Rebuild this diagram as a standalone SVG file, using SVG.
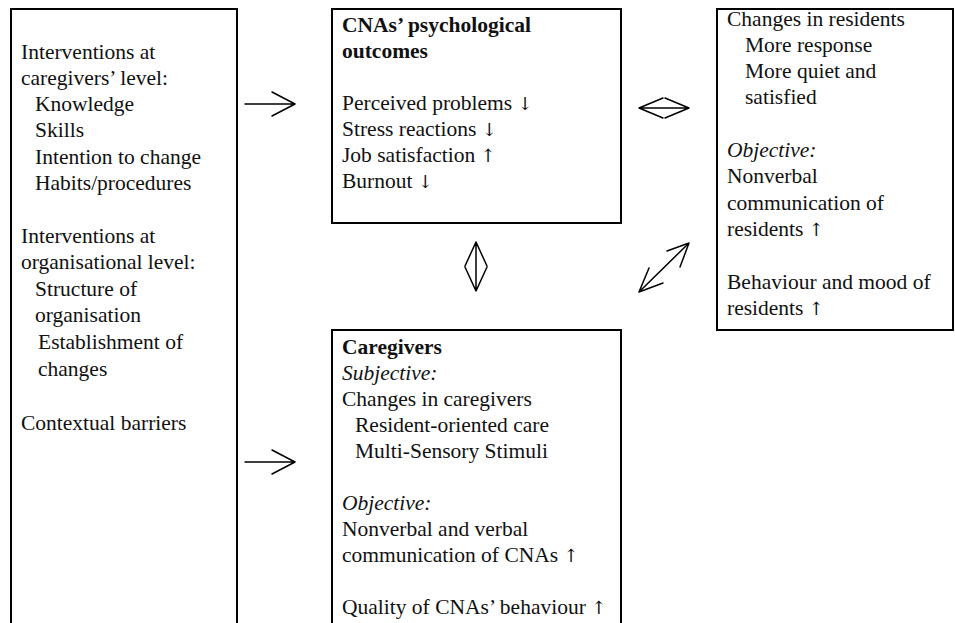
<svg xmlns="http://www.w3.org/2000/svg" width="955" height="623" viewBox="0 0 955 623">
  <defs>
    <style>
      .box { fill: none; stroke: #000; stroke-width: 2; }
      .t { font-family: "Liberation Serif", "Times New Roman", serif; font-size: 21.5px; fill: #111; }
      .b { font-weight: bold; }
      .i { font-style: italic; }
      .sym { font-family: "DejaVu Serif", "DejaVu Sans", serif; font-size: 18px; font-style: normal; font-weight: normal; fill: #111; }
      .arr { fill: none; stroke: #000; stroke-width: 1.5; stroke-linecap: round; stroke-linejoin: round; }
    </style>
  </defs>
  <rect width="955" height="623" fill="#fff"/>

  <!-- Interventions (left column, open at the bottom) -->
  <g id="interventions">
    <rect class="box" x="11" y="9" width="226" height="640"/>
    <text class="t" x="21" y="59">Interventions at</text>
    <text class="t" x="21" y="85">caregivers’ level:</text>
    <text class="t" x="35" y="111">Knowledge</text>
    <text class="t" x="35" y="137">Skills</text>
    <text class="t" x="35" y="164">Intention to change</text>
    <text class="t" x="35" y="190">Habits/procedures</text>
    <text class="t" x="21" y="243">Interventions at</text>
    <text class="t" x="21" y="269">organisational level:</text>
    <text class="t" x="35" y="296">Structure of</text>
    <text class="t" x="35" y="322">organisation</text>
    <text class="t" x="38" y="349">Establishment of</text>
    <text class="t" x="38" y="376">changes</text>
    <text class="t" x="21" y="430">Contextual barriers</text>
  </g>

  <!-- CNAs' psychological outcomes -->
  <g id="cna-outcomes">
    <rect class="box" x="332" y="9" width="289" height="214"/>
    <text class="t b" x="342" y="32">CNAs’ psychological</text>
    <text class="t b" x="342" y="58">outcomes</text>
    <text class="t" x="342" y="110">Perceived problems <tspan class="sym">↓</tspan></text>
    <text class="t" x="342" y="136">Stress reactions <tspan class="sym">↓</tspan></text>
    <text class="t" x="342" y="162">Job satisfaction <tspan class="sym">↑</tspan></text>
    <text class="t" x="342" y="188">Burnout <tspan class="sym">↓</tspan></text>
  </g>

  <!-- Residents -->
  <g id="residents">
    <rect class="box" x="717" y="9" width="236" height="321"/>
    <text class="t" x="727" y="26">Changes in residents</text>
    <text class="t" x="745" y="52">More response</text>
    <text class="t" x="745" y="78">More quiet and</text>
    <text class="t" x="745" y="104">satisfied</text>
    <text class="t i" x="727" y="157">Objective:</text>
    <text class="t" x="727" y="183">Nonverbal</text>
    <text class="t" x="727" y="210">communication of</text>
    <text class="t" x="727" y="236">residents <tspan class="sym">↑</tspan></text>
    <text class="t" x="727" y="289">Behaviour and mood of</text>
    <text class="t" x="727" y="315">residents <tspan class="sym">↑</tspan></text>
  </g>

  <!-- Caregivers (open at the bottom) -->
  <g id="caregivers">
    <rect class="box" x="332" y="330" width="289" height="320"/>
    <text class="t b" x="342" y="354">Caregivers</text>
    <text class="t i" x="342" y="380">Subjective:</text>
    <text class="t" x="342" y="406">Changes in caregivers</text>
    <text class="t" x="355" y="432">Resident-oriented care</text>
    <text class="t" x="355" y="458">Multi-Sensory Stimuli</text>
    <text class="t i" x="342" y="510">Objective:</text>
    <text class="t" x="342" y="536">Nonverbal and verbal</text>
    <text class="t" x="342" y="562">communication of CNAs <tspan class="sym">↑</tspan></text>
    <text class="t" x="342" y="614">Quality of CNAs’ behaviour <tspan class="sym">↑</tspan></text>
  </g>

  <!-- Connectors -->
  <g id="connectors">
    <!-- interventions -> CNAs' outcomes -->
    <path class="arr" d="M245,104 H295 M272,92 L295,104 L272,116"/>
    <!-- interventions -> caregivers -->
    <path class="arr" d="M245,462 H295 M272,450 L295,462 L272,474"/>
    <!-- CNAs' outcomes <-> residents -->
    <path class="arr" d="M639,108 H689 M663,98 L639,108 L663,118 M665,98 L689,108 L665,118"/>
    <!-- CNAs' outcomes <-> caregivers -->
    <path class="arr" d="M476,242 V291 M465,266 L476,242 L487,266 M465,267 L476,291 L487,267"/>
    <!-- caregivers <-> residents -->
    <path class="arr" d="M639,292 L689,243 M667,251 L689,243 L680,267 M649,268 L639,292 L663,283"/>
  </g>
</svg>
